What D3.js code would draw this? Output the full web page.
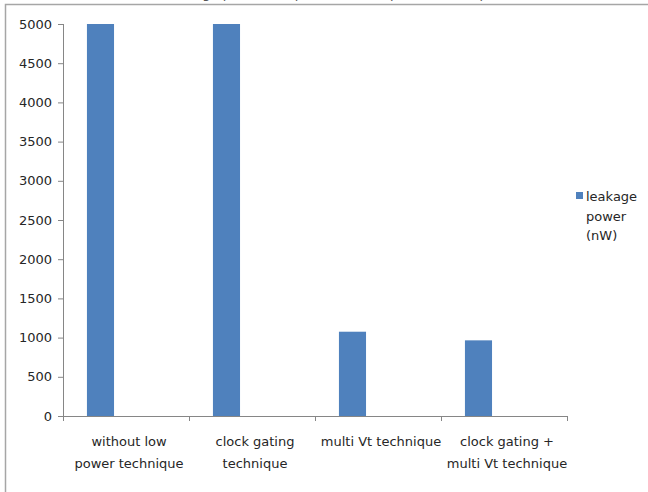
<!DOCTYPE html>
<html>
<head>
<meta charset="utf-8">
<script src="https://cdn.jsdelivr.net/npm/d3@7/dist/d3.min.js"></script>
<style>
  html, body { margin: 0; padding: 0; background: #fff; }
  svg { display: block; }
  text { font-family: "DejaVu Sans", sans-serif; }
</style>
</head>
<body>
<svg id="chart" width="648" height="492"></svg>
<script>
// ---- data ----
const titleText = "Leakage power comparison of low power techniques";
const categories = ["without low power technique", "clock gating technique", "multi Vt technique", "clock gating + multi Vt technique"];
const categoryLines = [["without low", "power technique"], ["clock gating", "technique"], ["multi Vt technique"], ["clock gating +", "multi Vt technique"]];
const seriesName = "leakage power (nW)";
const legendLines = ["leakage", "power", "(nW)"];
const leakageValues = [5000, 5000, 1075, 965];
const yTicks = [0, 500, 1000, 1500, 2000, 2500, 3000, 3500, 4000, 4500, 5000];

// ---- layout ----
const W = 648, H = 492;
const plot = { left: 63, right: 567, top: 24, bottom: 416 };
const barColor = "#4F81BD";
const axisColor = "#868686";
const textColor = "#262626";

const svg = d3.select("#chart");
svg.append("rect").attr("width", W).attr("height", H).attr("fill", "#fff");

// cropped title (only tips of descenders visible in the reference)
svg.append("text")
  .attr("x", 335).attr("y", -2.5)
  .attr("text-anchor", "middle")
  .attr("font-size", 13)
  .attr("fill", "#555")
  .text(titleText);

// frame (chart area border, partly cropped)
svg.append("path")
  .attr("d", `M5.5,${H} L5.5,4.5 L${W},4.5`)
  .attr("fill", "none").attr("stroke", "#a6a6a6").attr("stroke-width", 1.5);

const y = d3.scaleLinear().domain([0, 5000]).range([plot.bottom, plot.top]);
const x = d3.scaleBand().domain(categories).range([plot.left, plot.right]).padding(0);
const bw = x.bandwidth();

// bars
svg.append("g").selectAll("rect")
  .data(categories.map((c, i) => ({ c, v: leakageValues[i] })))
  .join("rect")
  .attr("x", d => x(d.c) + bw * 0.19)
  .attr("width", bw * 0.215)
  .attr("y", d => y(d.v))
  .attr("height", d => y(0) - y(d.v))
  .attr("fill", barColor);

// y axis
const yAxis = svg.append("g")
  .attr("transform", `translate(${plot.left},0)`)
  .call(d3.axisLeft(y).tickValues(yTicks).tickSize(5).tickPadding(6).tickFormat(d3.format("d")));
yAxis.select(".domain").attr("stroke", axisColor).attr("d", `M0.5,${plot.top} L0.5,${plot.bottom}`);
yAxis.selectAll(".tick line").attr("stroke", axisColor);
yAxis.selectAll(".tick text").attr("font-size", 13).attr("fill", textColor)
  .attr("font-family", "DejaVu Sans, sans-serif");

// x axis: boundary ticks
const xb = d3.scaleLinear().domain([0, categories.length]).range([plot.left, plot.right]);
const xAxis = svg.append("g")
  .attr("transform", `translate(0,${plot.bottom})`)
  .call(d3.axisBottom(xb).ticks(categories.length).tickSize(5).tickFormat(""));
xAxis.select(".domain").attr("stroke", axisColor).attr("d", `M${plot.left},0.5 L${plot.right},0.5`);
xAxis.selectAll(".tick line").attr("stroke", axisColor);

// category labels
const labels = svg.append("g");
categories.forEach((c, i) => {
  const cx = x(c) + bw / 2 + 3;
  const t = labels.append("text")
    .attr("x", cx)
    .attr("y", 446)
    .attr("text-anchor", "middle")
    .attr("font-size", 13)
    .attr("fill", textColor);
  categoryLines[i].forEach((line, j) => {
    t.append("tspan").attr("x", cx).attr("dy", j === 0 ? 0 : 22).text(line);
  });
});

// legend
const lg = svg.append("g");
lg.append("rect").attr("x", 576).attr("y", 192).attr("width", 7).attr("height", 7).attr("fill", barColor);
const lt = lg.append("text").attr("x", 586).attr("y", 201).attr("font-size", 13).attr("fill", textColor);
legendLines.forEach((l, j) => {
  lt.append("tspan").attr("x", 586).attr("dy", j === 0 ? 0 : 19.5).text(l);
});
</script>
</body>
</html>
